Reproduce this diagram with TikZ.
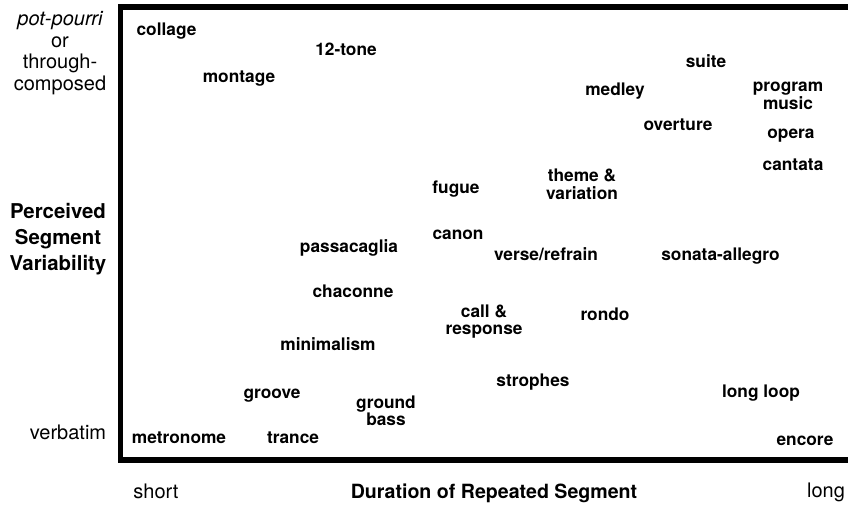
\documentclass[tikz,border=0pt]{standalone}
\usepackage{fontspec}
\setmainfont{TeX Gyre Heros}
\newcommand{\mlines}[1]{\begin{tabular}[t]{@{}c@{}}#1\end{tabular}}
\tikzset{
  lab/.style={font=\fontsize{17.3}{17.5}\selectfont\bfseries, inner sep=0pt, anchor=base},
  axislab/.style={font=\fontsize{20}{21.5}\selectfont, inner sep=0pt, anchor=base},
  axistitle/.style={font=\fontsize{19.6}{26}\selectfont\bfseries, inner sep=0pt, anchor=base},
  frameline/.style={line width=5.5pt, line join=miter}
}
\begin{document}
\begin{tikzpicture}[x=1pt,y=-1pt]
\useasboundingbox (0,0) rectangle (848,506);
% frame
\coordinate (tr) at (860,7);
\coordinate (tl) at (120.7,7);
\coordinate (bl) at (120.7,460);
\coordinate (br) at (860,460);
\draw[frameline] (tr) -- (tl) -- (bl) -- (br);
% axis labels
\node[axislab] (top) at (60,25.5) {\mlines{\itshape pot-pourri\\or\\through-\\composed}};
\node[axistitle, font=\fontsize{20.4}{26}\selectfont\bfseries] (ytitle) at (58,218) {\mlines{Perceived\\Segment\\Variability}};
\node[axislab] (verb) at (68,439) {verbatim};
\node[axislab] (short) at (156,498) {short};
\node[axistitle] (xtitle) at (494,498) {Duration of Repeated Segment};
\node[axislab] (long) at (826,497) {long};
% items
\node[lab] (collage) at (166.5,35) {collage};
\node[lab] (twelve) at (346,55) {12-tone};
\node[lab] (montage) at (239,82) {montage};
\node[lab] (suite) at (706,67) {suite};
\node[lab] (medley) at (615,95) {medley};
\node[lab] (program) at (788,91) {\mlines{program\\music}};
\node[lab] (overture) at (678,130) {overture};
\node[lab] (opera) at (791,138) {opera};
\node[lab] (cantata) at (793,170) {cantata};
\node[lab] (theme) at (582,181) {\mlines{theme \&\\variation}};
\node[lab] (fugue) at (456,193) {fugue};
\node[lab] (canon) at (458,239) {canon};
\node[lab] (passacaglia) at (349,252) {passacaglia};
\node[lab] (verse) at (546,260) {verse/refrain};
\node[lab] (sonata) at (720.5,260) {sonata-allegro};
\node[lab] (chaconne) at (353,297) {chaconne};
\node[lab] (call) at (484,317) {\mlines{call \&\\response}};
\node[lab] (rondo) at (605,320) {rondo};
\node[lab] (minimalism) at (328,350) {minimalism};
\node[lab] (strophes) at (533,386) {strophes};
\node[lab] (groove) at (272,398) {groove};
\node[lab] (longloop) at (761,397) {long loop};
\node[lab] (ground) at (386,408) {\mlines{ground\\bass}};
\node[lab] (metronome) at (179,443) {metronome};
\node[lab] (trance) at (293,443) {trance};
\node[lab] (encore) at (805,445) {encore};
\end{tikzpicture}
\end{document}
